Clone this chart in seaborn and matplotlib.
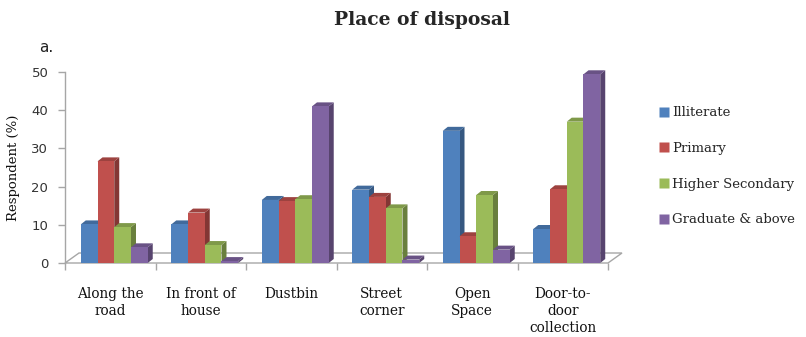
import numpy as np
import pandas as pd
import seaborn as sns
import matplotlib
matplotlib.use("Agg")
import matplotlib.pyplot as plt
import matplotlib.colors as mcolors
from matplotlib.patches import Polygon, Rectangle
from matplotlib.lines import Line2D

# Survey results: share of respondents (%) by disposal place and education level
places = ["Along the\nroad", "In front of\nhouse", "Dustbin", "Street\ncorner",
          "Open\nSpace", "Door-to-\ndoor\ncollection"]
levels = ["Illiterate", "Primary", "Higher Secondary", "Graduate & above"]
illiterate = [10.1, 10.1, 16.5, 19.2, 34.6, 8.9]
primary = [26.6, 13.2, 16.2, 17.3, 7.0, 19.3]
higher_secondary = [9.4, 4.7, 16.7, 14.3, 17.8, 37.0]
graduate = [4.1, 0.5, 41.0, 0.9, 3.5, 49.4]
palette = ["#4F81BD", "#C0504D", "#9BBB59", "#8064A2"]

df = pd.DataFrame({
    "place": places * 4,
    "level": np.repeat(levels, len(places)),
    "value": illiterate + primary + higher_secondary + graduate,
})

sns.set_theme(style="white")
plt.rcParams["font.family"] = ["DejaVu Serif"]

W, H, DPI = 806, 337, 100
fig = plt.figure(figsize=(W / DPI, H / DPI), dpi=DPI)
left_px, right_px, bot_px, top_px = 65, 608, 263, 72
ax = fig.add_axes([left_px / W, 1 - bot_px / H,
                   (right_px - left_px) / W, (bot_px - top_px) / H])

sns.barplot(data=df, x="place", y="value", hue="level", order=places,
            hue_order=levels, palette=palette, width=0.74, saturation=1,
            linewidth=0, legend=False, ax=ax)

ax.set_xlim(-0.5, len(places) - 0.5)
ax.set_ylim(0, 50)

# pixel -> data conversion for the pseudo-3D depth
ax_w_px = right_px - left_px
ax_h_px = bot_px - top_px
px_x = (len(places)) / ax_w_px
px_y = 50 / ax_h_px
dx, dy = 5 * px_x, 4 * px_y
shift = 4 * px_x  # bars sit slightly back-right on the floor


def shade(c, f):
    r, g, b = mcolors.to_rgb(c)
    return (r * f, g * f, b * f)


bars = sorted([p for p in ax.patches if isinstance(p, Rectangle)],
              key=lambda p: p.get_x())
for k, p in enumerate(bars):
    p.set_x(p.get_x() + shift)
    x0, w, h = p.get_x(), p.get_width(), p.get_height()
    col = p.get_facecolor()
    p.set_zorder(3 + 2 * k + 1)
    side = Polygon([(x0 + w, 0), (x0 + w + dx, dy), (x0 + w + dx, h + dy), (x0 + w, h)],
                   closed=True, facecolor=shade(col, 0.68), edgecolor="none",
                   zorder=3 + 2 * k, clip_on=False)
    top = Polygon([(x0, h), (x0 + w, h), (x0 + w + dx, h + dy), (x0 + dx, h + dy)],
                  closed=True, facecolor=shade(col, 0.82), edgecolor="none",
                  zorder=3 + 2 * k, clip_on=False)
    ax.add_patch(side)
    ax.add_patch(top)

# floor of the 3D plot area
fdx, fdy = 14 * px_x, 10 * px_y
x_lo, x_hi = -0.5, len(places) - 0.5
floor = Polygon([(x_lo, 0), (x_hi, 0), (x_hi + fdx, fdy), (x_lo + fdx, fdy)],
                closed=True, facecolor="white", edgecolor="#A6A6A6",
                linewidth=1.0, zorder=1, clip_on=False)
ax.add_patch(floor)

for s in ["top", "right", "bottom"]:
    ax.spines[s].set_visible(False)
ax.spines["left"].set_color("#A6A6A6")
ax.spines["left"].set_linewidth(1.0)

ax.set_yticks([0, 10, 20, 30, 40, 50])
ax.tick_params(axis="y", length=5, width=1, color="#A6A6A6", pad=7,
               labelsize=9.5, labelcolor="#333333", left=True)
for t in ax.get_yticklabels():
    t.set_fontfamily("DejaVu Sans")

ax.set_xticks(np.arange(len(places)))
ax.set_xticklabels(places, fontsize=9.8, color="#111111", linespacing=1.28,
                   va="top")
ax.tick_params(axis="x", length=0, pad=17)
ax.set_xticks(np.arange(len(places) + 1) - 0.5, minor=True)
ax.tick_params(axis="x", which="minor", length=5, width=1, color="#A6A6A6",
               bottom=True, direction="out")

ax.set_xlabel("")
ax.set_ylabel("Respondent (%)", fontsize=9.5, color="#111111", labelpad=8)

fig.text(422 / W, 1 - 20 / H, "Place of disposal", ha="center", va="center",
         fontsize=13.5, fontweight="bold", family="DejaVu Serif")
fig.text(39 / W, 1 - 47 / H, "a.", ha="left", va="center", fontsize=11,
         family="DejaVu Sans", color="#222222")

handles = [Line2D([], [], marker="s", linestyle="none", markersize=6.5,
                  markerfacecolor=c, markeredgecolor="none") for c in palette]
fig.legend(handles, levels, loc="upper left", bbox_to_anchor=(652 / W, 1 - 101 / H),
           frameon=False, fontsize=9.5, handletextpad=0.1, labelspacing=1.72,
           handlelength=1.0, borderaxespad=0)

fig.savefig("out.png", dpi=DPI)
